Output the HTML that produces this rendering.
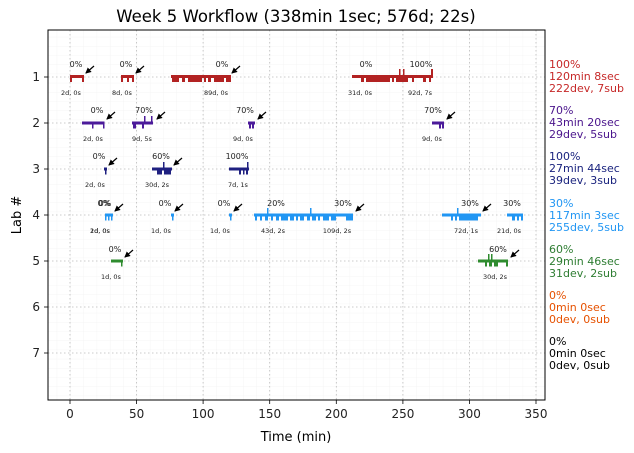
<!DOCTYPE html>
<html><head><meta charset="utf-8"><style>body{margin:0;background:#fff}svg{display:block}text{font-family:"DejaVu Sans","Liberation Sans",sans-serif}</style></head><body>
<svg width="634" height="453" viewBox="0 0 634 453" xmlns="http://www.w3.org/2000/svg">
<defs>
<marker id="ah" markerWidth="6" markerHeight="6" refX="5" refY="3" orient="auto" markerUnits="userSpaceOnUse"><path d="M0,0 L6,3 L0,6 z" fill="#000"/></marker>
<pattern id="mx" x="70" y="0" width="13.314" height="9.2" patternUnits="userSpaceOnUse"><path d="M0,0 V9.2 M0,0 H13.314" stroke="#eee" stroke-width="0.6" fill="none"/></pattern>
</defs>
<rect x="48" y="30" width="497" height="370" fill="url(#mx)"/>
<g stroke="#bbb" stroke-width="0.8" stroke-dasharray="1.5,2.5">
<line x1="70" y1="30" x2="70" y2="400"/><line x1="136.6" y1="30" x2="136.6" y2="400"/><line x1="203.1" y1="30" x2="203.1" y2="400"/><line x1="269.7" y1="30" x2="269.7" y2="400"/><line x1="336.3" y1="30" x2="336.3" y2="400"/><line x1="402.9" y1="30" x2="402.9" y2="400"/><line x1="469.4" y1="30" x2="469.4" y2="400"/><line x1="536" y1="30" x2="536" y2="400"/>
<line x1="48" y1="77" x2="545" y2="77"/><line x1="48" y1="123" x2="545" y2="123"/><line x1="48" y1="169" x2="545" y2="169"/><line x1="48" y1="215" x2="545" y2="215"/><line x1="48" y1="261" x2="545" y2="261"/><line x1="48" y1="307" x2="545" y2="307"/><line x1="48" y1="353" x2="545" y2="353"/>
</g>
<rect x="48" y="30" width="497" height="370" fill="none" stroke="#000" stroke-width="1"/>
<g stroke="#000" stroke-width="0.8">
<line x1="70" y1="400" x2="70" y2="404"/><line x1="136.6" y1="400" x2="136.6" y2="404"/><line x1="203.1" y1="400" x2="203.1" y2="404"/><line x1="269.7" y1="400" x2="269.7" y2="404"/><line x1="336.3" y1="400" x2="336.3" y2="404"/><line x1="402.9" y1="400" x2="402.9" y2="404"/><line x1="469.4" y1="400" x2="469.4" y2="404"/><line x1="536" y1="400" x2="536" y2="404"/>
<line x1="44" y1="77" x2="48" y2="77"/><line x1="44" y1="123" x2="48" y2="123"/><line x1="44" y1="169" x2="48" y2="169"/><line x1="44" y1="215" x2="48" y2="215"/><line x1="44" y1="261" x2="48" y2="261"/><line x1="44" y1="307" x2="48" y2="307"/><line x1="44" y1="353" x2="48" y2="353"/>
</g>
<g font-size="12" text-anchor="middle" fill="#222">
<text x="70" y="418">0</text><text x="136.6" y="418">50</text><text x="203.1" y="418">100</text><text x="269.7" y="418">150</text><text x="336.3" y="418">200</text><text x="402.9" y="418">250</text><text x="469.4" y="418">300</text><text x="536" y="418">350</text>
</g>
<g font-size="12" text-anchor="end" fill="#222">
<text x="40" y="81">1</text><text x="40" y="127">2</text><text x="40" y="173">3</text><text x="40" y="219">4</text><text x="40" y="265">5</text><text x="40" y="311">6</text><text x="40" y="357">7</text>
</g>
<text x="296" y="441" font-size="13" text-anchor="middle">Time (min)</text>
<text x="21" y="215" font-size="13" text-anchor="middle" transform="rotate(-90 21 215)">Lab #</text>
<text x="296" y="22" font-size="16.5" text-anchor="middle">Week 5 Workflow (338min 1sec; 576d; 22s)</text>

<g fill="#b22222">
<rect x="70" y="75" width="14" height="3"/><rect x="70" y="75" width="2" height="7"/><rect x="82" y="75" width="2" height="7"/>
<rect x="121" y="75" width="13" height="3"/><rect x="121" y="75" width="2" height="7"/><rect x="127" y="75" width="2" height="7"/><rect x="132" y="75" width="2" height="7"/>
<rect x="171" y="75" width="60" height="3"/><rect x="172" y="75" width="7" height="7"/><rect x="182" y="75" width="3" height="7"/><rect x="188" y="75" width="14" height="7"/><rect x="204" y="75" width="2" height="7"/><rect x="208" y="75" width="3" height="7"/><rect x="214" y="75" width="10" height="7"/><rect x="226" y="75" width="5" height="7"/>
<rect x="352" y="75" width="81" height="3"/><rect x="361" y="75" width="3" height="7"/><rect x="366" y="75" width="24" height="7"/><rect x="392" y="75" width="2" height="7"/><rect x="396" y="75" width="12" height="7"/><rect x="412" y="75" width="2" height="7"/><rect x="423" y="75" width="3" height="7"/><rect x="429" y="75" width="2" height="7"/>
<rect x="399" y="69" width="1.5" height="7"/><rect x="403" y="69" width="1.5" height="7"/><rect x="431" y="69" width="2" height="7"/>
</g>
<g fill="#4b1a9a">
<rect x="82" y="121.5" width="22" height="3"/><rect x="92" y="121.5" width="1.5" height="7"/><rect x="103" y="121.5" width="1.5" height="7"/>
<rect x="132" y="121.5" width="21" height="3"/><rect x="133" y="121.5" width="3" height="7"/><rect x="142" y="121.5" width="2" height="7"/><rect x="144" y="116" width="1.5" height="6"/><rect x="151" y="116" width="1.5" height="6"/>
<rect x="248" y="121.5" width="7" height="3"/><rect x="249" y="121.5" width="2" height="7"/><rect x="252" y="121.5" width="2" height="7"/>
<rect x="432" y="121.5" width="12" height="3"/><rect x="439" y="121.5" width="2" height="7"/><rect x="442" y="121.5" width="2" height="7"/>
</g>
<g fill="#1f2080">
<rect x="104" y="167.5" width="3" height="3"/><rect x="105" y="167.5" width="1.5" height="7"/>
<rect x="152" y="167.5" width="20" height="3"/><rect x="157" y="167.5" width="5" height="7"/><rect x="164" y="167.5" width="7" height="7"/><rect x="163" y="162" width="1.5" height="6"/>
<rect x="229" y="167.5" width="20" height="3"/><rect x="239" y="167.5" width="2" height="7"/><rect x="243" y="167.5" width="1.5" height="7"/><rect x="246" y="167.5" width="2" height="7"/><rect x="247" y="162" width="1.5" height="6"/>
</g>
<g fill="#2196f3">
<rect x="105" y="213.5" width="8" height="3"/><rect x="105" y="213.5" width="1.5" height="7"/><rect x="108" y="213.5" width="1.5" height="7"/><rect x="111" y="213.5" width="1.5" height="7"/>
<rect x="171" y="213.5" width="3" height="3"/><rect x="172" y="213.5" width="1.5" height="7"/>
<rect x="229" y="213.5" width="3" height="3"/><rect x="230" y="213.5" width="1.5" height="7"/>
<rect x="254" y="213.5" width="99" height="3"/><rect x="255" y="213.5" width="2" height="7"/><rect x="260" y="213.5" width="2" height="7"/><rect x="265" y="213.5" width="3" height="7"/><rect x="271" y="213.5" width="2" height="7"/><rect x="276" y="213.5" width="3" height="7"/><rect x="281" y="213.5" width="7" height="7"/><rect x="290" y="213.5" width="4" height="7"/><rect x="296" y="213.5" width="2" height="7"/><rect x="300" y="213.5" width="4" height="7"/><rect x="307" y="213.5" width="3" height="7"/><rect x="312" y="213.5" width="4" height="7"/><rect x="318" y="213.5" width="2" height="7"/><rect x="323" y="213.5" width="6" height="7"/><rect x="331" y="213.5" width="5" height="7"/><rect x="346" y="213.5" width="7" height="7"/><rect x="267" y="208" width="1.5" height="6"/><rect x="310" y="208" width="1.5" height="6"/>
<rect x="442" y="213.5" width="39" height="3"/><rect x="451" y="213.5" width="2" height="7"/><rect x="455" y="213.5" width="2" height="7"/><rect x="459" y="213.5" width="19" height="7"/><rect x="457" y="208" width="1.5" height="6"/>
<rect x="507" y="213.5" width="16" height="3"/><rect x="512" y="213.5" width="3" height="7"/><rect x="517" y="213.5" width="2" height="7"/><rect x="521" y="213.5" width="2" height="7"/>
</g>
<g fill="#2e8b2e">
<rect x="111" y="259.5" width="12" height="3"/><rect x="121" y="259.5" width="1.5" height="7"/>
<rect x="478" y="259.5" width="30" height="3"/><rect x="485" y="259.5" width="2" height="7"/><rect x="489" y="259.5" width="3" height="7"/><rect x="494" y="259.5" width="4" height="7"/><rect x="506" y="259.5" width="2" height="7"/><rect x="488" y="254" width="1.5" height="6"/><rect x="491" y="254" width="1.5" height="6"/>
</g>
<g stroke="#000" stroke-width="1.2" marker-end="url(#ah)">
<line x1="94" y1="66" x2="86" y2="73"/><line x1="144" y1="66" x2="136" y2="73"/><line x1="240" y1="66" x2="232" y2="73"/>
<line x1="115" y1="112" x2="107" y2="119"/><line x1="165" y1="112" x2="157" y2="119"/><line x1="266" y1="112" x2="258" y2="119"/><line x1="455" y1="112" x2="447" y2="119"/>
<line x1="117" y1="158" x2="109" y2="165"/><line x1="182" y1="158" x2="174" y2="165"/>
<line x1="123" y1="204" x2="115" y2="211"/><line x1="183" y1="204" x2="175" y2="211"/><line x1="242" y1="204" x2="234" y2="211"/><line x1="364" y1="204" x2="356" y2="211"/><line x1="491" y1="204" x2="483" y2="211"/>
<line x1="133" y1="250" x2="125" y2="257"/><line x1="519" y1="250" x2="511" y2="257"/>
</g>
<g font-size="8" text-anchor="middle" fill="#222">
<text x="76" y="67">0%</text><text x="126" y="67">0%</text><text x="222" y="67">0%</text><text x="366" y="67">0%</text><text x="421" y="67">100%</text>
<text x="97" y="113">0%</text><text x="144" y="113">70%</text><text x="245" y="113">70%</text><text x="433" y="113">70%</text>
<text x="99" y="159">0%</text><text x="161" y="159">60%</text><text x="237" y="159">100%</text>
<text x="104" y="206">0%</text><text x="105" y="206">0%</text><text x="165" y="206">0%</text><text x="224" y="206">0%</text><text x="276" y="206">20%</text><text x="343" y="206">30%</text><text x="470" y="206">30%</text><text x="512" y="206">30%</text>
<text x="115" y="252">0%</text><text x="498" y="252">60%</text>
</g>
<g font-size="6.5" text-anchor="middle" fill="#222">
<text x="71" y="95">2d, 0s</text><text x="122" y="95">8d, 0s</text><text x="216" y="95">89d, 0s</text><text x="360" y="95">31d, 0s</text><text x="420" y="95">92d, 7s</text>
<text x="93" y="141">2d, 0s</text><text x="142" y="141">9d, 5s</text><text x="243" y="141">9d, 0s</text><text x="432" y="141">9d, 0s</text>
<text x="95" y="187">2d, 0s</text><text x="157" y="187">30d, 2s</text><text x="238" y="187">7d, 1s</text>
<text x="100" y="233">1d, 0s</text><text x="100" y="233">2d, 0s</text><text x="161" y="233">1d, 0s</text><text x="220" y="233">1d, 0s</text><text x="273" y="233">43d, 2s</text><text x="337" y="233">109d, 2s</text><text x="466" y="233">72d, 1s</text><text x="509" y="233">21d, 0s</text>
<text x="111" y="279">1d, 0s</text><text x="495" y="279">30d, 2s</text>
</g>
<g font-size="11">
<g fill="#c62828"><text x="549" y="68">100%</text><text x="549" y="80">120min 8sec</text><text x="549" y="92">222dev, 7sub</text></g>
<g fill="#4a148c"><text x="549" y="114">70%</text><text x="549" y="126">43min 20sec</text><text x="549" y="138">29dev, 5sub</text></g>
<g fill="#1a237e"><text x="549" y="160">100%</text><text x="549" y="172">27min 44sec</text><text x="549" y="184">39dev, 3sub</text></g>
<g fill="#2196f3"><text x="549" y="207">30%</text><text x="549" y="219">117min 3sec</text><text x="549" y="231">255dev, 5sub</text></g>
<g fill="#2e7d32"><text x="549" y="253">60%</text><text x="549" y="265">29min 46sec</text><text x="549" y="277">31dev, 2sub</text></g>
<g fill="#e65100"><text x="549" y="299">0%</text><text x="549" y="311">0min 0sec</text><text x="549" y="323">0dev, 0sub</text></g>
<g fill="#000"><text x="549" y="345">0%</text><text x="549" y="357">0min 0sec</text><text x="549" y="369">0dev, 0sub</text></g>
</g>
</svg>
</body></html>
